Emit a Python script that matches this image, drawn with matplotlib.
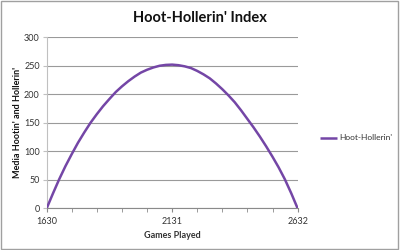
import matplotlib
matplotlib.use("Agg")
import matplotlib.pyplot as plt
from matplotlib.patches import Rectangle

games = [1630, 1655, 1680, 1705, 1730, 1755, 1780, 1805, 1830, 1855, 1881,
         1906, 1931, 1956, 1981, 2006, 2031, 2056, 2081, 2106, 2131,
         2156, 2181, 2206, 2231, 2256, 2281, 2306, 2331, 2356, 2381,
         2406, 2431, 2456, 2481, 2506, 2531, 2556, 2581, 2607, 2632]
hoot = [0, 26, 51, 74, 95, 115, 133, 150, 165, 179, 192,
        204, 214, 223, 231, 238, 243, 247, 250, 251.5, 252,
        251, 249, 246, 241, 235, 228, 219, 209, 198, 186,
        172, 157, 142, 126, 109, 91, 72, 51, 26, 0]
xticks = [1630, 2131, 2632]
yticks = [0, 50, 100, 150, 200, 250, 300]

plt.rcParams['font.family'] = ['Lato', 'DejaVu Sans']

fig = plt.figure(figsize=(4, 2.5), dpi=100)
fig.patch.set_facecolor('white')
fig.add_artist(Rectangle((0.002, 0.006), 0.993, 0.99, transform=fig.transFigure,
                         fill=False, edgecolor='#a0a0a0', linewidth=1))

ax = fig.add_axes([0.1167, 0.1667, 0.6273, 0.6843])
ax.plot(games, hoot, color='#7446a6', linewidth=1.8, label="Hoot-Hollerin'",
        solid_joinstyle='round', solid_capstyle='butt', zorder=3)
ax.set_xlim(1630, 2632)
ax.set_ylim(0, 300)
ax.set_yticks(yticks)
ax.yaxis.grid(True, color='#9a9a9a', linewidth=0.8)
ax.set_axisbelow(True)
ax.set_xticks(xticks)
ax.set_xticks([1630 + k * 100.2 for k in range(11)], minor=True)
for s in ['top', 'right']:
    ax.spines[s].set_visible(False)
ax.spines['left'].set_color('#c0c0c0')
ax.spines['bottom'].set_color('#8a8a8a')
ax.tick_params(axis='x', which='both', length=3, color='#8a8a8a', labelsize=6.5,
               labelcolor='#333333', pad=3)
ax.tick_params(axis='y', length=3, color='#c0c0c0', labelsize=6.5,
               labelcolor='#333333', pad=2)

ax.set_xlabel('Games Played', fontsize=6.5, fontweight='bold', color='#333333', labelpad=4)
ax.set_ylabel("Media Hootin' and Hollerin'", fontsize=6.5, fontweight='bold',
              color='#111111', labelpad=1.5)

fig.text(0.5, 0.93, "Hoot-Hollerin' Index", ha='center', va='center',
         fontsize=10.5, fontweight='bold', color='#111111')

leg = fig.legend(loc='center left', bbox_to_anchor=(0.80, 0.448), frameon=False,
                 fontsize=6, handlelength=2.0, handletextpad=0.35,
                 borderpad=0, borderaxespad=0)
for t in leg.get_texts():
    t.set_color('#333333')

fig.savefig('out.png', dpi=100)
